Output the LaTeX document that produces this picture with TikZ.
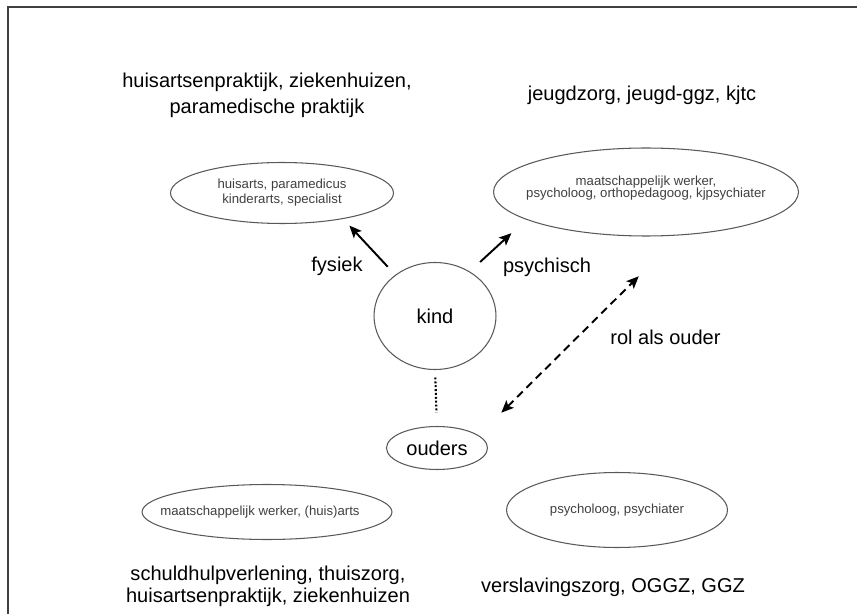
\documentclass[tikz,border=0pt]{standalone}
\usepackage{fontspec}
\setmainfont{Liberation Sans}
\usetikzlibrary{arrows.meta,shapes.geometric}
\newcommand{\groot}{\fontsize{11.4}{14.8}\selectfont}
\newcommand{\klein}{\fontsize{7.5}{8.5}\selectfont}

\begin{document}
\begin{tikzpicture}[x=0.02cm,y=-0.02cm,every node/.style={font=\groot},
  >={Stealth[length=7pt,width=6pt,inset=1.5pt]},
  bol/.style={ellipse,draw=black!65,line width=0.6pt,inner sep=1pt},
  dienst/.style={font=\klein,text=black!75,align=center},
  pijl/.style={line width=1.1pt,->}]
\useasboundingbox (0,0) rectangle (857,614);
% kader
\draw[line width=0.9pt,black!75] (8,614) -- (8,7) -- (857,7);

% titels
\node[align=center] (medtitel) at (267,95) {huisartsenpraktijk, ziekenhuizen,\\paramedische praktijk};
\node (jeugdtitel) at (642,95) {jeugdzorg, jeugd-ggz, kjtc};
\node[align=center] (schuldtitel) at (268,586) {schuldhulpverlening, thuiszorg,\\[-2.3pt]huisartsenpraktijk, ziekenhuizen};
\node (versltitel) at (613,587) {verslavingszorg, OGGZ, GGZ};

% ellipsen
\node[bol,minimum width=4.46cm,minimum height=1.22cm,
  label={[dienst]center:{huisarts, paramedicus\\kinderarts, specialist}}] (med) at (282,193) {};
\node[bol,minimum width=6.1cm,minimum height=1.76cm,
  label={[dienst,yshift=0.08cm]center:{maatschappelijk werker,\\[-2pt]psycholoog, orthopedagoog, kjpsychiater}}] (jeugd) at (646,192) {};
\node[bol,minimum width=2.44cm,minimum height=2.14cm] (kind) at (435,316) {kind};
\node[bol,minimum width=2.02cm,minimum height=0.86cm] (ouders) at (437,448) {ouders};
\node[bol,minimum width=5cm,minimum height=1.1cm,
  label={[dienst,xshift=-0.14cm]center:{maatschappelijk werker, (huis)arts}}] (schuld) at (267,512) {};
\node[bol,minimum width=4.42cm,minimum height=1.5cm,
  label={[dienst]center:{psycholoog, psychiater}}] (versl) at (617,510) {};

% pijlen
\draw[pijl,shorten <=0.22cm,shorten >=0.18cm] (kind.134) -- (med.-23);
\draw[pijl,shorten <=0.28cm,shorten >=0.4cm] (kind.52) -- (jeugd.193);
\draw[line width=1.1pt,dash pattern=on 4.5pt off 3pt,<->,shorten <=0.64cm,shorten >=1.16cm] (ouders.17) -- (jeugd.-52);
\draw[line width=1.2pt,dash pattern=on 1.1pt off 1.1pt,shorten <=0.15cm,shorten >=0.27cm] (kind.south) -- (ouders.north);

\node (fysiek) at (337,266) {fysiek};
\node (psychisch) at (547,267) {psychisch};
\node[anchor=west,inner sep=0pt] (rol) at (610,337) {rol als ouder};
\end{tikzpicture}
\end{document}
